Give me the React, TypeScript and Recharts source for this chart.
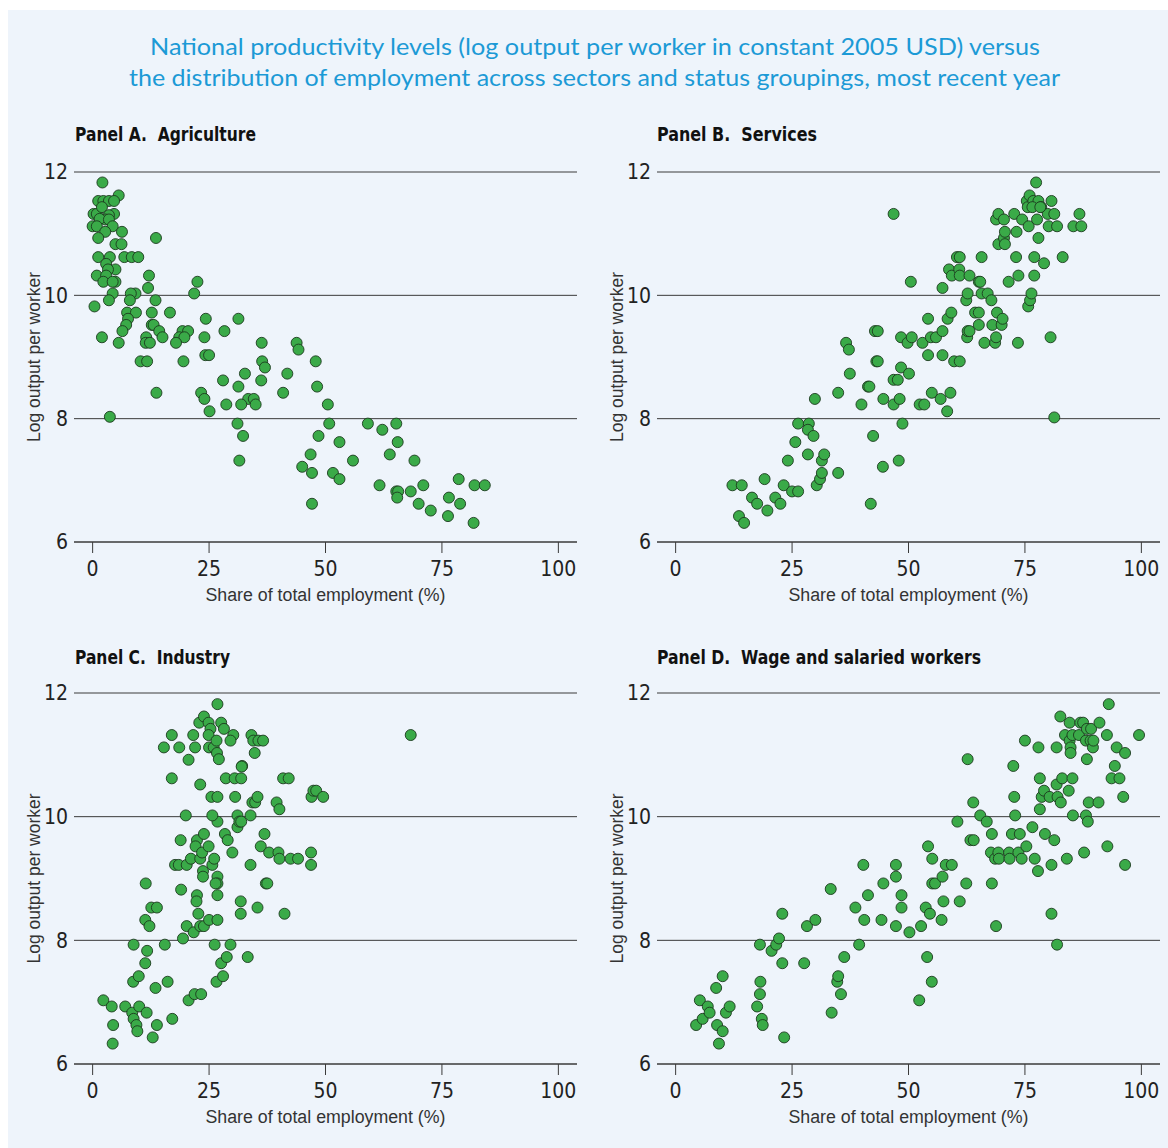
import React from 'react';
import { ScatterChart, Scatter, XAxis, YAxis, CartesianGrid, Label } from 'recharts';

const chartTitleLines = [
  'National productivity levels (log output per worker in constant 2005 USD) versus',
  'the distribution of employment across sectors and status groupings, most recent year',
];
const panelTitles = [
  'Panel A.  Agriculture',
  'Panel B.  Services',
  'Panel C.  Industry',
  'Panel D.  Wage and salaried workers',
];
const xTicks = [0, 25, 50, 75, 100];
const yTicks = [6, 8, 10, 12];
const xDomain: [number, number] = [-4, 104];
const yDomain: [number, number] = [6, 12];
const xAxisTitle = 'Share of total employment (%)';
const yAxisTitle = 'Log output per worker';

// [share of total employment (%), log output per worker]
const agriculturePoints: [number, number][] = [
  [2.1, 11.83], [5.6, 11.62], [1.2, 11.53], [2.3, 11.53], [3.5, 11.53], [4.6, 11.53], [0.2, 11.32], [0.9, 11.32],
  [2.0, 11.43], [4.6, 11.32], [3.5, 11.3], [2.7, 11.23], [1.5, 11.24], [3.5, 11.23], [0.0, 11.12], [0.9, 11.12],
  [4.3, 11.12], [6.3, 11.03], [2.7, 11.03], [1.2, 10.93], [13.6, 10.93], [4.9, 10.83], [6.2, 10.83], [1.2, 10.62],
  [3.7, 10.62], [6.8, 10.62], [8.4, 10.62], [9.8, 10.62], [2.9, 10.51], [4.9, 10.42], [3.3, 10.42], [0.9, 10.32],
  [2.9, 10.32], [12.1, 10.32], [2.3, 10.22], [4.9, 10.22], [4.3, 10.22], [11.9, 10.12], [22.5, 10.22], [4.3, 10.03],
  [9.2, 10.03], [8.2, 10.03], [21.8, 10.03], [0.4, 9.82], [3.5, 9.92], [8.0, 9.92], [13.5, 9.92], [7.4, 9.72],
  [9.3, 9.72], [12.7, 9.72], [16.6, 9.72], [7.6, 9.62], [24.3, 9.62], [31.3, 9.62], [7.2, 9.52], [12.7, 9.52],
  [13.1, 9.52], [6.4, 9.42], [14.3, 9.42], [19.3, 9.42], [20.5, 9.42], [28.3, 9.42], [2.0, 9.32], [11.5, 9.32],
  [15.0, 9.32], [18.6, 9.32], [19.7, 9.32], [24.0, 9.32], [5.6, 9.23], [11.4, 9.23], [12.3, 9.23], [17.9, 9.23],
  [36.3, 9.23], [43.8, 9.23], [44.2, 9.12], [10.3, 8.93], [11.7, 8.93], [19.5, 8.93], [24.2, 9.03], [25.0, 9.03],
  [36.4, 8.93], [37.0, 8.83], [47.9, 8.93], [32.7, 8.73], [41.8, 8.73], [28.0, 8.62], [31.3, 8.52], [36.2, 8.62],
  [48.2, 8.52], [13.7, 8.42], [23.3, 8.42], [24.0, 8.32], [33.4, 8.32], [34.6, 8.32], [40.9, 8.42], [28.7, 8.23],
  [31.9, 8.23], [35.0, 8.23], [50.5, 8.23], [25.1, 8.12], [3.7, 8.03], [31.1, 7.92], [50.8, 7.92], [59.1, 7.92],
  [65.2, 7.92], [32.3, 7.72], [48.5, 7.72], [62.2, 7.82], [53.0, 7.62], [65.5, 7.62], [46.8, 7.42], [63.8, 7.42],
  [31.5, 7.32], [55.9, 7.32], [69.1, 7.32], [45.0, 7.22], [47.1, 7.12], [51.6, 7.12], [53.0, 7.02], [78.6, 7.02],
  [61.6, 6.92], [71.0, 6.92], [82.0, 6.92], [84.2, 6.92], [65.2, 6.82], [65.6, 6.82], [68.3, 6.82], [65.4, 6.72],
  [76.5, 6.72], [47.1, 6.62], [70.0, 6.62], [78.9, 6.62], [72.6, 6.51], [76.3, 6.42], [81.8, 6.31],
];

const servicesPoints: [number, number][] = [
  [46.8, 11.32], [12.2, 6.92], [14.2, 6.92], [13.6, 6.42], [14.7, 6.31], [16.4, 6.72], [17.5, 6.62], [19.1, 7.02],
  [19.7, 6.51], [21.4, 6.72], [22.5, 6.62], [23.2, 6.92], [24.1, 7.32], [25.0, 6.82], [26.3, 6.82], [25.7, 7.62],
  [26.3, 7.92], [28.6, 7.92], [28.4, 7.82], [29.6, 7.72], [28.4, 7.42], [29.9, 8.32], [30.3, 6.92], [31.0, 7.02],
  [31.4, 7.12], [31.4, 7.32], [31.9, 7.42], [34.9, 7.12], [34.9, 8.42], [36.6, 9.23], [37.2, 9.12], [37.4, 8.73],
  [39.9, 8.23], [41.3, 8.52], [41.6, 8.52], [41.9, 6.62], [42.4, 7.72], [42.8, 9.42], [43.4, 9.42], [43.1, 8.93],
  [43.4, 8.93], [44.5, 7.22], [44.6, 8.32], [46.8, 8.63], [46.8, 8.23], [47.7, 8.63], [47.9, 7.32], [48.1, 8.32],
  [48.4, 8.83], [48.4, 9.32], [48.7, 7.92], [49.8, 9.23], [50.1, 8.73], [50.5, 10.22], [50.7, 9.32], [52.4, 8.23],
  [53.4, 8.23], [53.0, 9.23], [54.2, 9.62], [54.2, 9.03], [54.8, 9.32], [55.0, 8.42], [55.9, 9.32], [56.9, 8.32],
  [57.3, 9.42], [57.3, 9.03], [57.3, 10.12], [58.3, 8.12], [58.4, 9.62], [59.0, 8.42], [59.2, 9.72], [58.7, 10.42],
  [59.3, 10.32], [59.8, 8.93], [61.0, 8.93], [60.4, 10.62], [61.0, 10.62], [60.9, 10.42], [61.0, 10.32], [62.4, 9.92],
  [62.6, 9.32], [62.7, 9.42], [63.1, 9.42], [62.7, 10.03], [63.1, 10.32], [64.3, 9.72], [65.1, 9.72], [65.1, 9.52],
  [65.1, 10.22], [65.4, 10.22], [65.7, 10.03], [65.7, 10.62], [66.3, 9.23], [67.0, 10.03], [67.8, 9.92], [68.0, 9.52],
  [68.6, 9.23], [68.8, 9.32], [69.0, 9.72], [70.0, 9.52], [70.2, 9.62], [68.8, 11.23], [69.3, 11.32], [70.5, 11.23],
  [69.3, 10.83], [70.5, 10.93], [70.7, 11.03], [70.7, 10.83], [71.5, 10.22], [72.7, 11.32], [73.1, 10.62], [73.2, 11.03],
  [73.5, 9.23], [73.6, 10.32], [74.4, 11.23], [75.4, 11.53], [75.6, 11.43], [76.0, 11.62], [75.8, 11.12], [75.7, 9.82],
  [76.1, 9.92], [76.4, 10.03], [77.0, 10.32], [77.0, 10.62], [76.8, 11.53], [77.4, 11.83], [77.6, 11.23], [77.9, 11.53],
  [77.9, 10.93], [78.5, 11.43], [79.1, 10.52], [79.9, 11.32], [80.1, 11.12], [80.5, 9.32], [80.7, 11.53], [81.3, 11.32],
  [81.3, 8.02], [81.9, 11.12], [83.1, 10.62], [85.4, 11.12], [86.7, 11.32], [87.1, 11.12], [76.6, 11.43], [78.3, 11.43],
];

const industryPoints: [number, number][] = [
  [2.3, 7.03], [4.1, 6.93], [4.4, 6.63], [4.3, 6.33], [7.0, 6.93], [8.5, 6.83], [8.8, 6.73], [9.4, 6.63],
  [9.6, 6.53], [10.0, 6.93], [11.6, 6.83], [12.9, 6.43], [13.8, 6.63], [17.1, 6.73], [8.8, 7.93], [8.7, 7.33],
  [9.9, 7.42], [11.3, 7.63], [11.7, 7.83], [13.5, 7.23], [15.5, 7.93], [16.1, 7.33], [11.4, 8.92], [11.3, 8.33],
  [12.2, 8.23], [12.6, 8.53], [13.8, 8.53], [15.3, 11.12], [17.0, 11.32], [18.6, 11.12], [17.0, 10.62], [20.6, 10.92],
  [21.6, 11.32], [22.0, 11.12], [20.0, 10.02], [18.9, 9.62], [17.7, 9.22], [18.5, 9.22], [20.2, 9.22], [21.1, 9.32],
  [19.0, 8.82], [19.4, 8.03], [20.2, 8.23], [20.6, 7.03], [21.9, 7.13], [23.3, 7.13], [21.7, 8.13], [22.4, 8.73],
  [22.3, 8.63], [22.7, 8.43], [23.1, 8.23], [23.9, 8.23], [25.0, 8.33], [22.4, 9.62], [22.1, 9.52], [23.1, 9.32],
  [23.5, 9.42], [23.7, 9.12], [23.7, 9.03], [23.9, 9.72], [24.9, 9.52], [25.7, 9.22], [26.1, 9.32], [26.2, 7.93],
  [26.6, 7.33], [27.6, 7.63], [28.0, 7.42], [28.8, 7.73], [29.6, 7.93], [26.8, 8.33], [26.8, 8.73], [26.8, 9.03],
  [26.8, 8.92], [26.4, 8.92], [26.8, 9.92], [25.7, 10.02], [28.4, 9.72], [29.0, 9.62], [30.0, 9.42], [25.5, 10.32],
  [26.8, 10.32], [28.6, 10.62], [30.6, 10.32], [30.5, 10.62], [31.9, 10.62], [31.1, 10.02], [31.1, 9.83], [31.5, 9.92],
  [31.9, 9.92], [32.1, 10.82], [23.1, 10.52], [22.9, 11.52], [23.9, 11.62], [24.9, 11.52], [25.3, 11.42], [24.9, 11.32],
  [25.0, 11.12], [26.0, 11.12], [26.6, 11.23], [26.7, 11.03], [27.1, 10.93], [26.8, 11.82], [27.6, 11.52], [28.2, 11.42],
  [30.2, 11.32], [29.6, 11.23], [31.8, 8.43], [31.8, 8.63], [33.3, 7.73], [33.9, 9.22], [33.9, 10.02], [34.3, 10.23],
  [34.9, 10.23], [35.4, 10.32], [34.1, 11.32], [34.5, 11.23], [34.8, 11.03], [35.6, 11.23], [36.6, 11.23], [35.4, 8.53],
  [36.1, 9.52], [36.9, 9.72], [37.2, 8.92], [37.5, 8.92], [37.9, 9.42], [39.9, 9.42], [39.5, 10.23], [40.1, 10.12],
  [40.1, 9.32], [40.9, 10.62], [42.1, 10.62], [41.2, 8.43], [42.5, 9.32], [44.1, 9.32], [47.0, 10.32], [47.4, 10.42],
  [48.0, 10.42], [49.5, 10.32], [46.9, 9.42], [46.9, 9.22], [68.3, 11.32], [32.0, 10.81],
];

const wagePoints: [number, number][] = [
  [4.4, 6.63], [5.2, 7.03], [5.8, 6.73], [6.9, 6.93], [7.3, 6.83], [8.7, 7.23], [8.9, 6.63], [9.3, 6.33],
  [10.1, 6.53], [10.1, 7.42], [10.8, 6.83], [11.6, 6.93], [17.5, 6.93], [18.1, 7.13], [18.2, 7.33], [18.1, 7.93],
  [18.5, 6.73], [18.7, 6.63], [20.6, 7.83], [21.6, 7.93], [22.2, 8.03], [22.9, 7.63], [22.9, 8.43], [23.3, 6.43],
  [27.6, 7.63], [28.2, 8.23], [30.0, 8.33], [33.3, 8.83], [33.5, 6.83], [34.7, 7.33], [34.9, 7.42], [35.5, 7.13],
  [36.2, 7.73], [38.6, 8.53], [39.4, 7.93], [40.3, 9.22], [40.5, 8.33], [41.3, 8.73], [44.2, 8.33], [44.6, 8.92],
  [47.3, 9.22], [47.3, 9.03], [47.3, 8.23], [48.5, 8.73], [48.5, 8.53], [50.2, 8.13], [52.3, 7.03], [52.7, 8.23],
  [53.7, 8.53], [54.0, 7.73], [54.2, 9.52], [54.6, 8.43], [55.0, 7.33], [55.1, 9.32], [55.1, 8.92], [55.7, 8.92],
  [57.1, 8.33], [57.3, 9.03], [57.5, 8.63], [58.0, 9.22], [59.3, 9.22], [60.5, 9.92], [61.0, 8.63], [62.4, 8.92],
  [62.7, 10.93], [63.3, 9.62], [64.0, 9.62], [63.9, 10.23], [65.4, 10.02], [66.8, 9.92], [67.9, 9.72], [67.9, 8.92],
  [67.7, 9.42], [68.6, 9.32], [68.8, 8.23], [69.3, 9.42], [69.4, 9.32], [71.6, 9.42], [71.7, 9.32], [72.2, 9.72],
  [72.5, 10.82], [72.7, 10.32], [72.9, 10.02], [73.6, 9.42], [73.9, 9.72], [74.3, 9.32], [75.0, 11.23], [75.3, 9.52],
  [76.6, 9.83], [77.1, 9.32], [77.8, 9.12], [77.9, 11.12], [78.2, 10.62], [78.2, 10.12], [78.6, 10.32], [79.1, 10.42],
  [79.3, 9.72], [80.3, 10.32], [80.7, 9.22], [80.7, 8.43], [81.3, 9.62], [81.8, 10.52], [81.8, 11.12], [81.9, 7.93],
  [82.0, 10.32], [82.6, 11.62], [82.7, 10.23], [83.0, 10.62], [83.6, 11.32], [84.0, 9.32], [84.4, 10.42], [84.6, 11.52],
  [84.6, 11.23], [84.8, 11.12], [84.8, 11.03], [85.2, 10.62], [85.2, 11.32], [85.3, 10.02], [86.6, 11.32], [86.9, 11.52],
  [87.5, 11.52], [87.7, 9.42], [88.1, 10.02], [88.1, 11.23], [88.3, 11.42], [88.3, 10.93], [88.5, 9.92], [88.7, 10.23],
  [89.1, 11.23], [89.2, 11.42], [89.6, 11.12], [89.7, 11.23], [90.8, 10.23], [91.0, 11.52], [92.6, 11.32], [92.7, 9.52],
  [93.0, 11.82], [93.6, 10.62], [94.3, 10.82], [94.7, 11.12], [95.3, 10.62], [96.1, 10.32], [96.5, 11.03], [96.5, 9.22],
  [99.5, 11.32],
];

const panels = [
  { title: panelTitles[0], points: agriculturePoints, left: 0, top: 150, h: 470, titleX: 75, titleY: 141, titleW: 181 },
  { title: panelTitles[1], points: servicesPoints, left: 583, top: 150, h: 470, titleX: 657, titleY: 141, titleW: 160 },
  { title: panelTitles[2], points: industryPoints, left: 0, top: 671, h: 471, titleX: 75, titleY: 664, titleW: 155 },
  { title: panelTitles[3], points: wagePoints, left: 583, top: 671, h: 471, titleX: 657, titleY: 664, titleW: 324 },
];

const NARROW = "'Liberation Sans Narrow', 'DejaVu Sans Condensed', 'Liberation Sans', sans-serif";
const SANS = "'Liberation Sans', Arial, sans-serif";
const GRID = '#3a3a3a';
const BG = '#eef4fb';
const DOT = '#3aaa48';
const DOT_EDGE = '#1c3a1e';
const TITLE_BLUE = '#1c9ad6';

const W = 590;

const makeXTitle = (h: number) => () => (
  <text x={325.5} y={h - 19.5} textAnchor="middle" fill="#333" fontFamily={SANS} fontSize={18}
    textLength={240} lengthAdjust="spacingAndGlyphs">
    {xAxisTitle}
  </text>
);

const makeYTitle = (h: number) => () => {
  const cy = 22 + (h - 100) / 2;
  return (
    <text x={40} y={cy} transform={`rotate(-90, 40, ${cy})`} textAnchor="middle" fill="#333" fontFamily={SANS}
      fontSize={18} textLength={170} lengthAdjust="spacingAndGlyphs">
      {yAxisTitle}
    </text>
  );
};

const Dot = (props: any) => {
  const { cx, cy } = props;
  if (cx == null || cy == null) return null;
  return <circle cx={cx} cy={cy} r={5.5} fill={DOT} stroke={DOT_EDGE} strokeWidth={0.9} />;
};

function Panel({ points, left, top, h }: { points: [number, number][]; left: number; top: number; h: number }) {
  const data = points.map(([x, y]) => ({ x, y }));
  return (
    <div style={{ position: 'absolute', left, top, width: W, height: h }}>
      <ScatterChart width={W} height={h} margin={{ top: 22, right: 13, bottom: 0, left: 0 }}>
        <CartesianGrid vertical={false} stroke={GRID} strokeWidth={1} />
        <XAxis
          type="number"
          dataKey="x"
          domain={xDomain}
          ticks={xTicks}
          interval={0}
          allowDataOverflow
          height={78}
          tickSize={11}
          tickMargin={8}
          axisLine={{ stroke: GRID }}
          tickLine={{ stroke: GRID }}
          tick={{ fill: '#222', fontSize: 21, fontFamily: NARROW }}
        >
          <Label content={makeXTitle(h)} />
        </XAxis>
        <YAxis
          type="number"
          dataKey="y"
          domain={yDomain}
          ticks={yTicks}
          interval={0}
          allowDataOverflow
          width={74}
          axisLine={false}
          tickLine={false}
          tickSize={0}
          tickMargin={6}
          tick={{ fill: '#222', fontSize: 21, fontFamily: NARROW }}
        >
          <Label content={makeYTitle(h)} />
        </YAxis>
        <Scatter data={data} fill={DOT} stroke={DOT_EDGE} shape={Dot} isAnimationActive={false} />
      </ScatterChart>
    </div>
  );
}

export default function App() {
  return (
    <div style={{ position: 'absolute', left: 0, top: 0, width: 1168, height: 1148, background: '#ffffff', overflow: 'hidden' }}>
      <div style={{ position: 'absolute', left: 8, top: 10, width: 1160, height: 1138, background: BG }} />
      <svg style={{ position: 'absolute', left: 0, top: 0 }} width={1168} height={1148}>
        <text x={595} y={55} textAnchor="middle" fill={TITLE_BLUE} fontFamily="Lato, 'Noto Sans', sans-serif"
          fontSize={23} textLength={890} lengthAdjust="spacingAndGlyphs">
          {chartTitleLines[0]}
        </text>
        <text x={594.5} y={86} textAnchor="middle" fill={TITLE_BLUE} fontFamily="Lato, 'Noto Sans', sans-serif"
          fontSize={23} textLength={931} lengthAdjust="spacingAndGlyphs">
          {chartTitleLines[1]}
        </text>
        {panels.map((p) => (
          <text key={p.title} x={p.titleX} y={p.titleY} fill="#111" fontFamily={NARROW} fontWeight="bold"
            fontSize={20} textLength={p.titleW} lengthAdjust="spacingAndGlyphs" style={{ whiteSpace: 'pre' }}>
            {p.title}
          </text>
        ))}
      </svg>
      {panels.map((p) => (
        <Panel key={p.title} points={p.points} left={p.left} top={p.top} h={p.h} />
      ))}
    </div>
  );
}
